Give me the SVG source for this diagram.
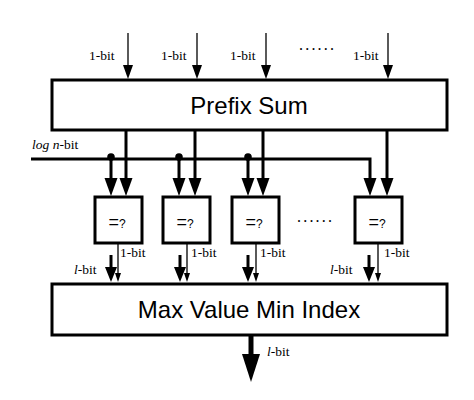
<svg xmlns="http://www.w3.org/2000/svg" width="474" height="400" viewBox="0 0 474 400">
<style>
.box{fill:#fff;stroke:#000;stroke-width:3}
.thick{stroke:#000;stroke-width:3;fill:none}
.thin{stroke:#000;stroke-width:1.3;fill:none}
.head{fill:#000}
.lbl{font-family:"Liberation Serif",serif;font-size:13.5px;fill:#000}
.big{font-family:"Liberation Sans",sans-serif;font-size:24px;fill:#000;text-anchor:middle}
.eq{font-family:"Liberation Sans",sans-serif;fill:#000}
.dots{font-family:"Liberation Serif",serif;font-size:16px;fill:#000;letter-spacing:2.2px}
</style>
<rect width="474" height="400" fill="#fff"/>
<g id="connectors">
  <g>
    <line class="thin" x1="128" y1="33" x2="128" y2="68"/><polygon class="head" points="123,65 133,65 128,79"/>
    <line class="thin" x1="197" y1="33" x2="197" y2="68"/><polygon class="head" points="192,65 202,65 197,79"/>
    <line class="thin" x1="266" y1="33" x2="266" y2="68"/><polygon class="head" points="261,65 271,65 266,79"/>
    <line class="thin" x1="388" y1="33" x2="388" y2="68"/><polygon class="head" points="383,65 393,65 388,79"/>
  </g>
  <line class="thick" x1="126" y1="131" x2="126" y2="180"/><polygon class="head" points="119.5,178 132.5,178 126,196"/>
  <line class="thick" x1="195" y1="131" x2="195" y2="180"/><polygon class="head" points="188.5,178 201.5,178 195,196"/>
  <line class="thick" x1="263" y1="131" x2="263" y2="180"/><polygon class="head" points="256.5,178 269.5,178 263,196"/>
  <line class="thick" x1="387" y1="131" x2="387" y2="180"/><polygon class="head" points="380.5,178 393.5,178 387,196"/>
  <polyline class="thick" points="31,159 370,159 370,180"/>
  <circle cx="111" cy="157" r="3.8"/><circle cx="179" cy="157" r="3.8"/><circle cx="248" cy="157" r="3.8"/>
  <line class="thick" x1="111" y1="157" x2="111" y2="180"/><polygon class="head" points="104.5,178 117.5,178 111,196"/>
  <line class="thick" x1="179" y1="157" x2="179" y2="180"/><polygon class="head" points="172.5,178 185.5,178 179,196"/>
  <line class="thick" x1="248" y1="157" x2="248" y2="180"/><polygon class="head" points="241.5,178 254.5,178 248,196"/>
  <polygon class="head" points="363.5,178 376.5,178 370,196"/>
  <line class="thin" x1="118" y1="244" x2="118" y2="275"/><polygon class="head" points="115,273 121,273 118,282"/>
  <line class="thin" x1="187" y1="244" x2="187" y2="275"/><polygon class="head" points="184,273 190,273 187,282"/>
  <line class="thin" x1="256" y1="244" x2="256" y2="275"/><polygon class="head" points="253,273 259,273 256,282"/>
  <line class="thin" x1="378" y1="244" x2="378" y2="275"/><polygon class="head" points="375,273 381,273 378,282"/>
  <line class="thick" x1="111" y1="255" x2="111" y2="269"/><polygon class="head" points="105,267 117,267 111,282"/>
  <line class="thick" x1="180" y1="255" x2="180" y2="269"/><polygon class="head" points="174,267 186,267 180,282"/>
  <line class="thick" x1="248" y1="255" x2="248" y2="269"/><polygon class="head" points="242,267 254,267 248,282"/>
  <line class="thick" x1="369" y1="255" x2="369" y2="269"/><polygon class="head" points="363,267 375,267 369,282"/>
  <line x1="251" y1="335" x2="251" y2="356" stroke="#000" stroke-width="5"/>
  <polygon class="head" points="242,354 260,354 251,382"/>
</g>
<g id="prefix-sum">
  <rect class="box" x="52" y="80" width="395" height="50"/>
  <text class="big" x="249" y="114">Prefix Sum</text>
</g>
<g id="cmp1"><rect class="box" x="95" y="197" width="47" height="46"/><text class="eq" x="117" y="228" text-anchor="middle"><tspan font-size="18">=</tspan><tspan font-size="12">?</tspan></text></g>
<g id="cmp2"><rect class="box" x="163" y="197" width="47" height="46"/><text class="eq" x="185" y="228" text-anchor="middle"><tspan font-size="18">=</tspan><tspan font-size="12">?</tspan></text></g>
<g id="cmp3"><rect class="box" x="232" y="197" width="47" height="46"/><text class="eq" x="254" y="228" text-anchor="middle"><tspan font-size="18">=</tspan><tspan font-size="12">?</tspan></text></g>
<g id="cmp4"><rect class="box" x="355" y="197" width="47" height="46"/><text class="eq" x="377" y="228" text-anchor="middle"><tspan font-size="18">=</tspan><tspan font-size="12">?</tspan></text></g>
<g id="max-value-min-index">
  <rect class="box" x="52" y="284" width="395" height="51"/>
  <text class="big" x="249" y="318">Max Value Min Index</text>
</g>
<g id="labels">
  <text class="lbl" x="89" y="60">1-bit</text>
  <text class="lbl" x="161" y="60">1-bit</text>
  <text class="lbl" x="230" y="60">1-bit</text>
  <text class="lbl" x="353" y="60">1-bit</text>
  <text class="dots" x="299" y="50">......</text>
  <text class="lbl" x="32" y="149"><tspan font-style="italic">log n</tspan>-bit</text>
  <text class="dots" x="297" y="222">......</text>
  <text class="lbl" x="120" y="257">1-bit</text>
  <text class="lbl" x="191" y="257">1-bit</text>
  <text class="lbl" x="260" y="257">1-bit</text>
  <text class="lbl" x="384" y="257">1-bit</text>
  <text class="lbl" x="74" y="274"><tspan font-style="italic">l</tspan>-bit</text>
  <text class="lbl" x="330" y="274"><tspan font-style="italic">l</tspan>-bit</text>
  <text class="lbl" x="267" y="356"><tspan font-style="italic">l</tspan>-bit</text>
</g>
</svg>
